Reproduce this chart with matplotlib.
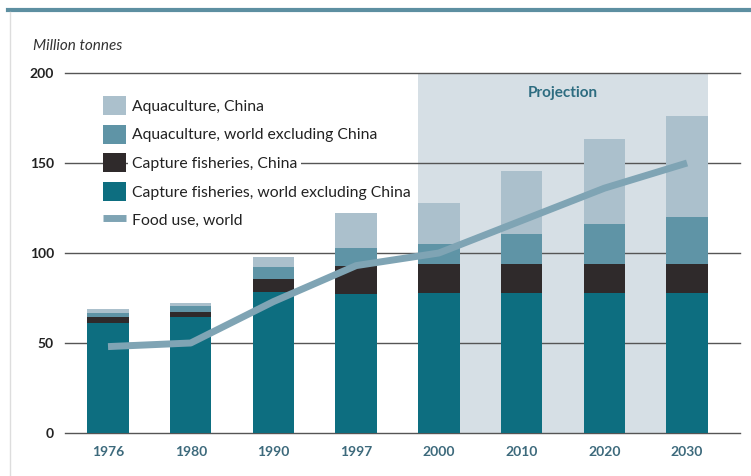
"""Fish production by source, with projection to 2030."""

import matplotlib.pyplot as plt
import numpy as np
from matplotlib.lines import Line2D
from matplotlib.patches import Rectangle

years = ["1976", "1980", "1990", "1997", "2000", "2010", "2020", "2030"]
capture_world_ex_china = [61, 64.5, 78.5, 77.5, 78, 78, 78, 78]
capture_china = [3.5, 3, 7, 15.5, 16, 16, 16, 16]
aqua_world_ex_china = [2, 3, 6.5, 10, 11, 16.5, 22, 26]
aqua_china = [2.5, 1.5, 6, 19, 23, 35, 47.5, 56]
food_use_world = [48, 50, 73, 93, 100, 118, 136, 150]
y_ticks = [0, 50, 100, 150, 200]

projection_start = "2000"

plt.rcParams["font.family"] = ["Lato", "DejaVu Sans"]

fig = plt.figure(figsize=(7.51, 4.76), dpi=100)
ax = fig.add_axes([65 / 751, 1 - 433 / 476, 675 / 751, 360 / 476])

x = np.arange(len(years))
width = 0.5

# projection background
p0 = years.index(projection_start)
ax.add_patch(
    Rectangle(
        (p0 - width / 2, 0),
        (len(years) - 1 + width / 2) - (p0 - width / 2),
        200,
        facecolor="#d6dfe5",
        edgecolor="none",
        zorder=0,
    )
)
ax.text(
    (p0 + len(years) - 1) / 2,
    189,
    "Projection",
    ha="center",
    va="center",
    fontsize=11,
    fontweight="bold",
    color="#2d6c80",
)

for t in y_ticks:
    ax.axhline(t, color="#555555", linewidth=1.0, zorder=1, clip_on=False)

colors = ["#0d6e80", "#2f2a2b", "#5f94a6", "#abc0cc"]
labels = [
    "Capture fisheries, world excluding China",
    "Capture fisheries, China",
    "Aquaculture, world excluding China",
    "Aquaculture, China",
]
bottom = np.zeros(len(years))
handles = []
for vals, color, label in zip(
    [capture_world_ex_china, capture_china, aqua_world_ex_china, aqua_china],
    colors,
    labels,
):
    bars = ax.bar(x, vals, width, bottom=bottom, color=color, label=label, zorder=2)
    handles.append(bars)
    bottom = bottom + np.array(vals)

(line,) = ax.plot(
    x,
    food_use_world,
    color="#7fa4b4",
    linewidth=5,
    solid_capstyle="butt",
    zorder=3,
    label="Food use, world",
)

ax.set_xlim(-0.52, 7.64)
ax.set_ylim(0, 200)
for side in ["top", "right", "left", "bottom"]:
    ax.spines[side].set_visible(False)
ax.set_yticks(y_ticks)
ax.set_yticklabels([str(t) for t in y_ticks], fontweight="bold", fontsize=10)
ax.set_xticks(x, years, fontweight="bold", fontsize=10, color="#3d6a7c")
ax.tick_params(axis="both", length=0)
ax.tick_params(axis="y", pad=8, colors="#222222")
ax.tick_params(axis="x", pad=9)

leg_handles = [handles[3], handles[2], handles[1], handles[0], line]
leg = ax.legend(
    leg_handles,
    [h.get_label() for h in leg_handles],
    loc="upper left",
    bbox_to_anchor=(0.035, 0.975),
    frameon=False,
    fontsize=11.3,
    handlelength=1.5,
    handleheight=1.5,
    handletextpad=0.35,
    labelspacing=0.6,
)
for txt in leg.get_texts():
    txt.set_color("#222222")
    txt.set_bbox(dict(facecolor="white", edgecolor="none", pad=2.5))
leg.set_zorder(5)

fig.text(33 / 751, 1 - 46 / 476, "Million tonnes", fontsize=11, style="italic",
         color="#333333", va="center")

# panel rules
fig.add_artist(Line2D([8 / 751, 1], [1 - 10 / 476, 1 - 10 / 476],
                      color="#5d8fa1", linewidth=3))
fig.add_artist(Line2D([10 / 751, 10 / 751], [0, 1 - 12 / 476],
                      color="#dddddd", linewidth=1))

fig.savefig("out.png", dpi=100)
